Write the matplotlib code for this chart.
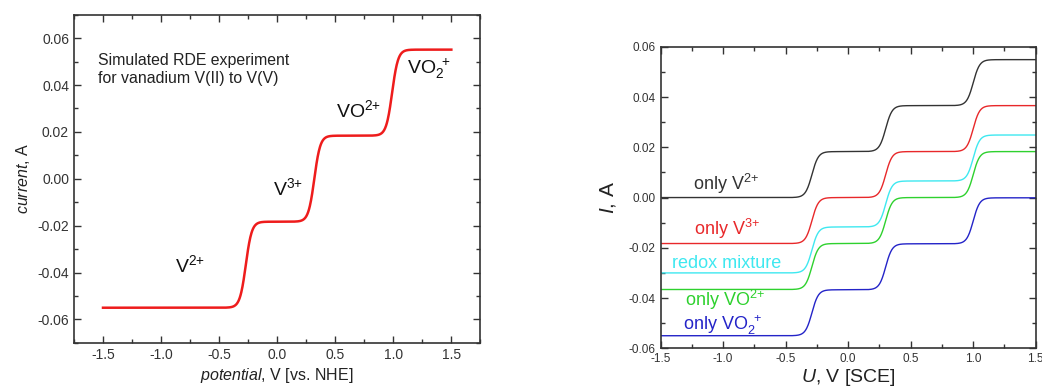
import numpy as np
import matplotlib.pyplot as plt
from matplotlib.ticker import MultipleLocator

plt.rcParams['font.family'] = ['Liberation Sans', 'DejaVu Sans']
plt.rcParams['axes.unicode_minus'] = False
plt.rcParams['mathtext.fontset'] = 'custom'
plt.rcParams['mathtext.rm'] = 'Liberation Sans'
plt.rcParams['mathtext.it'] = 'Liberation Sans:italic'
plt.rcParams['mathtext.bf'] = 'Liberation Sans:bold'

# half-wave potentials (V) and limiting current per step (A)
left_e_half = [-0.27, 0.32, 0.99]
left_start = -0.055
left_step = 0.0367

right_e_half = [-0.29, 0.30, 1.00]
right_step = 0.0183
right_names = ["only V$^{2{+}}$", "only V$^{3{+}}$", "redox mixture",
               "only VO$^{2{+}}$", "only VO$_2^{\\;\\;{+}}$"]
right_start = [0.0, -0.0183, -0.030, -0.0366, -0.055]
right_colors = ["#333333", "#e8282a", "#3ee8f0", "#2ed12e", "#2424c8"]
right_label_x = [-1.24, -1.235, -1.41, -1.305, -1.32]
right_label_y = [0.003, -0.0149, -0.0282, -0.0432, -0.0528]

f_nernst = 38.9  # F/RT at 25 C


def rde_curve(e, start, step, e_half):
    i = np.full_like(e, start)
    for e0 in e_half:
        i += step / (1 + np.exp(-(e - e0) * f_nernst))
    return i


def style_axes(ax, tick_size):
    ax.xaxis.set_major_locator(MultipleLocator(0.5))
    ax.xaxis.set_minor_locator(MultipleLocator(0.25))
    ax.yaxis.set_major_locator(MultipleLocator(0.02))
    ax.yaxis.set_minor_locator(MultipleLocator(0.01))
    ax.yaxis.set_major_formatter(plt.FuncFormatter(lambda v, p: f"{v:.2f}"))
    ax.tick_params(which='both', direction='in', top=True, right=True,
                   colors='#333333', labelcolor='#333333', labelsize=tick_size)
    ax.tick_params(which='major', length=5, width=1)
    ax.tick_params(which='minor', length=3, width=1)
    for s in ax.spines.values():
        s.set_color('#333333')
        s.set_linewidth(1.2)


fig = plt.figure(figsize=(10.42, 3.87), dpi=100)

# left panel
ax1 = fig.add_axes([0.071, 0.114, 0.390, 0.848])
e = np.linspace(-1.5, 1.5, 1200)
ax1.plot(e, rde_curve(e, left_start, left_step, left_e_half), color='#ee1c1c', lw=1.8)
ax1.set_xlim(-1.75, 1.75)
ax1.set_ylim(-0.07, 0.07)
style_axes(ax1, 10)
ax1.set_xlabel("$\\it{potential}$, V [vs. NHE]", fontsize=11.5, color='#222222', labelpad=3)
ax1.set_ylabel("$\\it{current}$, A", fontsize=11.5, color='#222222', labelpad=4)
ax1.text(-1.54, 0.0537, "Simulated RDE experiment\nfor vanadium V(II) to V(V)",
         fontsize=11.4, va='top', ha='left', color='#222222', linespacing=1.25)
ax1.text(-0.883, -0.0397, "V$^{2{+}}$", fontsize=14, color='#111111')
ax1.text(-0.032, -0.0069, "V$^{3{+}}$", fontsize=14, color='#111111')
ax1.text(0.507, 0.0263, "VO$^{2{+}}$", fontsize=14, color='#111111')
ax1.text(1.12, 0.0448, "VO$_2^{\\;\\;{+}}$", fontsize=14, color='#111111')

# right panel
ax2 = fig.add_axes([0.634, 0.100, 0.360, 0.779])
for name, start, col, lx, ly in zip(right_names, right_start, right_colors,
                                    right_label_x, right_label_y):
    ax2.plot(e, rde_curve(e, start, right_step, right_e_half), color=col, lw=1.0)
    ax2.text(lx, ly, name, color=col, fontsize=13)
ax2.set_xlim(-1.5, 1.5)
ax2.set_ylim(-0.06, 0.06)
style_axes(ax2, 8.5)
ax2.set_xlabel("$\\it{U}$, V [SCE]", fontsize=14, color='#222222', labelpad=1)
ax2.set_ylabel("$\\it{I}$, A", fontsize=15, color='#222222', labelpad=8)

fig.savefig("out.png", dpi=100)
